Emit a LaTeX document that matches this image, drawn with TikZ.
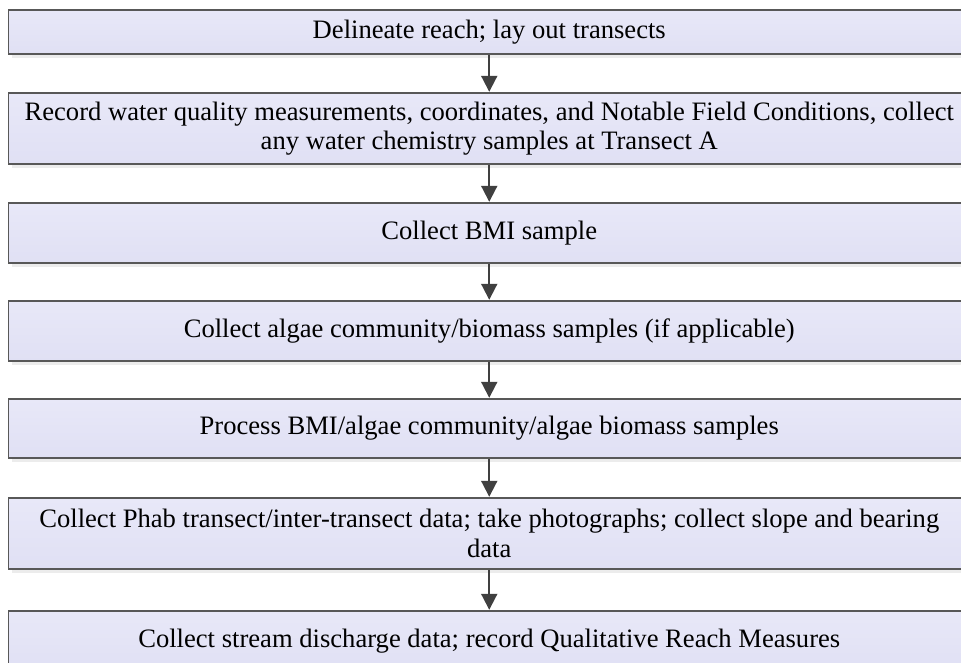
\documentclass[tikz,border=0pt]{standalone}
\usepackage{fontspec}
\setmainfont{Liberation Serif}
\usetikzlibrary{arrows.meta}
\definecolor{boxfill}{RGB}{224,224,244}
\definecolor{boxtop}{RGB}{232,232,248}
\definecolor{boxline}{RGB}{88,88,88}
\definecolor{shadowgray}{RGB}{236,236,236}
\definecolor{arrowgray}{RGB}{64,64,64}
\tikzset{
  stepbox/.style={draw=boxline, line width=1.2pt, top color=boxtop, bottom color=boxfill,
    minimum width=961.5pt, inner sep=0pt, align=center,
    font=\fontsize{26.6}{29.5}\selectfont, text=black},
  flow/.style={draw=arrowgray, line width=2pt,
    -{Triangle[length=16pt, width=16pt]}, shorten <=0.6pt, shorten >=0.6pt},
}
\newcommand{\stepnode}[4]{%
  % #1 name, #2 top y, #3 bottom y, #4 text
  \fill[shadowgray] (11.5pt,{-(#3)*1pt}) rectangle (972pt,{-(#3+5)*1pt});
  \node[stepbox, minimum height={(#3-#2)*1pt}] (#1) at (489.25pt,{-((#2+#3)/2+1)*1pt}) {#4};
}
\begin{document}
\begin{tikzpicture}
\useasboundingbox (0pt,0pt) rectangle (961pt,-662pt);
\begin{scope}
\clip (0pt,0pt) rectangle (961pt,-662pt);
\stepnode{s1}{9}{53}{Delineate reach; lay out transects}
\stepnode{s2}{92}{163}{Record water quality measurements, coordinates, and Notable Field Conditions, collect\\any water chemistry samples at Transect A}
\stepnode{s3}{202}{262}{Collect BMI sample}
\stepnode{s4}{300}{360}{Collect algae community/biomass samples (if applicable)}
\stepnode{s5}{398}{457}{Process BMI/algae community/algae biomass samples}
\stepnode{s6}{497}{568}{Collect Phab transect/inter-transect data; take photographs; collect slope and bearing\\data}
\stepnode{s7}{610}{670}{Collect stream discharge data; record Qualitative Reach Measures}
\end{scope}
\foreach \a/\b in {s1/s2,s2/s3,s3/s4,s4/s5,s5/s6,s6/s7}
  \draw[flow] (\a.south) -- (\b.north);
\end{tikzpicture}
\end{document}
